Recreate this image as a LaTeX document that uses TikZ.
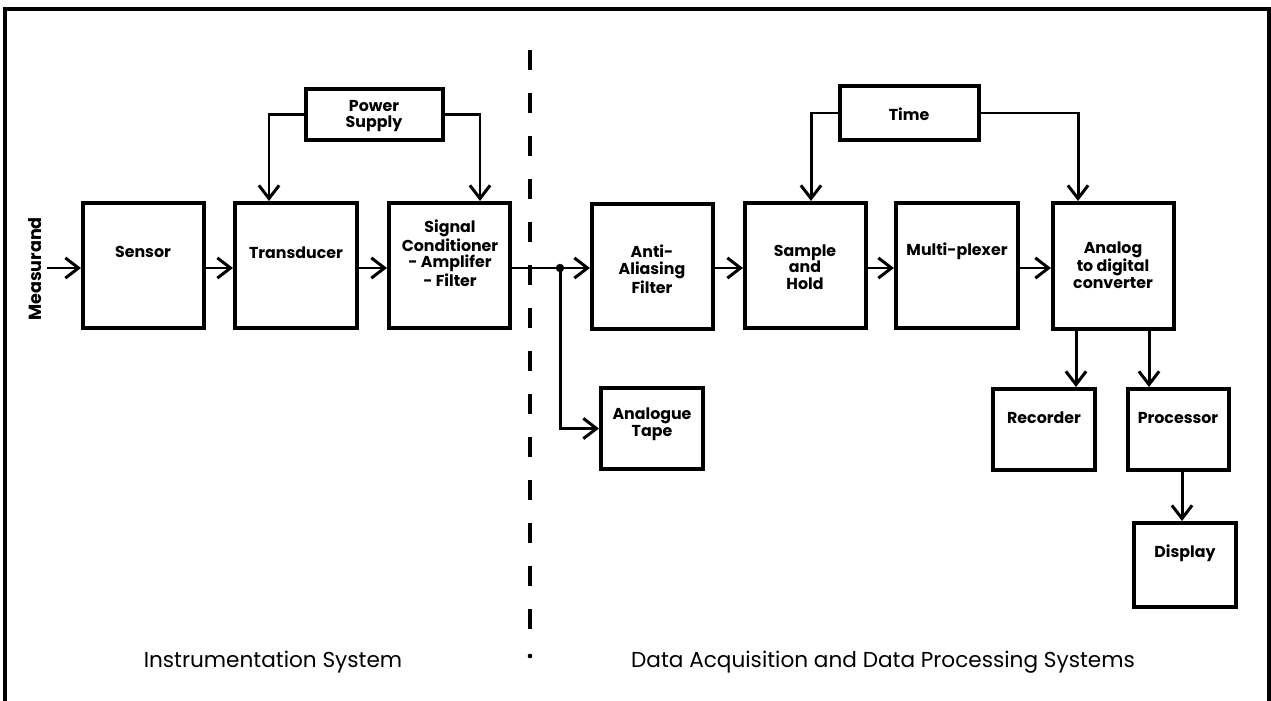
\documentclass[tikz,border=0pt]{standalone}
\usepackage{fontspec}
\setmainfont{Poppins}
\usetikzlibrary{arrows.meta,fit}
\begin{document}
\begin{tikzpicture}[x=0.02cm,y=-0.02cm,
  blk/.style={draw, line width=2.3pt, inner sep=0pt},
  lbl/.style={font=\bfseries\fontsize{9}{9.5}\selectfont, align=center, inner sep=0pt},
  arr/.style={line width=1.7pt, -{Straight Barb[length=7.5pt,width=11.5pt]}},
  ln/.style={line width=1.7pt},
  capt/.style={font=\fontsize{12.3}{14}\selectfont, inner sep=0pt}]
\useasboundingbox (0,0) rectangle (1271,700);
\draw[line width=1.8pt] (5,702) -- (5,9) -- (1269,9) -- (1269,702);

% dashed divider
\foreach \y in {50,93,...,609} \draw[line width=2.3pt] (530,\y) -- (530,\y+20);
\fill (530,656) circle[radius=1.3pt];

% boxes
\node[blk, fit={(83,203) (204,328)}] (sensor) {};
\node[blk, fit={(235,203) (357,328)}] (trans) {};
\node[blk, fit={(389,203) (510,328)}] (cond) {};
\node[blk, fit={(306,89) (443,140)}] (ps) {};
\node[blk, fit={(592,204) (713,329)}] (aa) {};
\node[blk, fit={(601,388) (703,469)}] (tape) {};
\node[blk, fit={(745,203) (866,328)}] (sh) {};
\node[blk, fit={(896,203) (1018,328)}] (mux) {};
\node[blk, fit={(1053,203) (1174,329)}] (adc) {};
\node[blk, fit={(840,86) (979,140)}] (time) {};
\node[blk, fit={(993,389) (1095,470)}] (rec) {};
\node[blk, fit={(1128,389) (1229,470)}] (proc) {};
\node[blk, fit={(1134,523) (1236,607)}] (disp) {};

% labels
\node[lbl, rotate=90, font=\bfseries\fontsize{10}{11}\selectfont] (meas) at (35,269) {Measurand};
\node[lbl] (sensorT) at (143,252) {Sensor};
\node[lbl] (transT) at (296,253) {Transducer};
\node[lbl] (condT) at (450,253) {Signal\\Conditioner\\- Amplifer\\- Filter};
\node[lbl] (psT) at (374,116) {Power\\Supply};
\node[lbl] (aaT) at (652,269) {Anti-\\Aliasing\\Filter};
\node[lbl] (tapeT) at (652,424) {Analogue\\Tape};
\node[lbl] (shT) at (805,267) {Sample\\and\\Hold};
\node[lbl] (muxT) at (957,251) {Multi-plexer};
\node[lbl] (adcT) at (1113,265) {Analog\\to digital\\converter};
\node[lbl] (timeT) at (909,114) {Time};
\node[lbl] (recT) at (1044,418) {Recorder};
\node[lbl] (procT) at (1178,418) {Processor};
\node[lbl] (dispT) at (1185,553) {Display};
\node[capt] (cap1) at (273,662) {Instrumentation System};
\node[capt] (cap2) at (883,662) {Data Acquisition and Data Processing Systems};

% coordinates
\coordinate (row) at (0,268);
\coordinate (mstart) at (47,268);
\coordinate (junc) at (560,268);
\coordinate (psl) at (269,0);
\coordinate (psr) at (480,0);
\coordinate (tl) at (811,0);
\coordinate (tr) at (1078,0);
\coordinate (d1) at (1076,0);
\coordinate (d2) at (1149,0);
\coordinate (d3) at (1182,0);

% connectors
\draw[arr] (mstart) -- (mstart -| sensor.west);
\draw[arr] (sensor.east |- row) -- (trans.west |- row);
\draw[arr] (trans.east |- row) -- (cond.west |- row);
\draw[ln] (cond.east |- row) -- (junc);
\fill (junc) circle[radius=2.4pt];
\draw[arr] (junc) -- (aa.west |- row);
\draw[arr] (junc) |- (tape.west);
\draw[arr] (aa.east |- row) -- (sh.west |- row);
\draw[arr] (sh.east |- row) -- (mux.west |- row);
\draw[arr] (mux.east |- row) -- (adc.west |- row);
\draw[arr] (ps.west) -| (trans.north -| psl);
\draw[arr] (ps.east) -| (cond.north -| psr);
\draw[arr] (time.west) -| (sh.north -| tl);
\draw[arr] (time.east) -| (adc.north -| tr);
\draw[arr] (adc.south -| d1) -- (rec.north -| d1);
\draw[arr] (adc.south -| d2) -- (proc.north -| d2);
\draw[arr] (proc.south -| d3) -- (disp.north -| d3);
\end{tikzpicture}
\end{document}
